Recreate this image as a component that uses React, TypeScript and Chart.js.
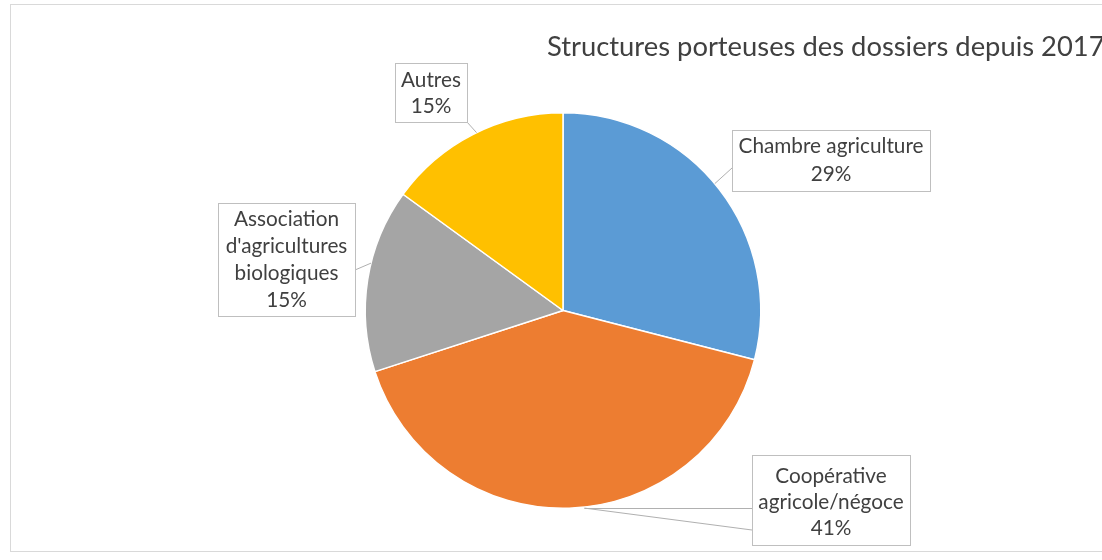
import React, { useEffect, useRef } from "react";
import { Chart, registerables } from "chart.js";

Chart.register(...registerables);

const categories = ["Chambre agriculture", "Coopérative agricole/négoce", "Association d'agricultures biologiques", "Autres"];
const values = [29, 41, 15, 15];
const labelLines = [
  ["Chambre agriculture", "29%"],
  ["Coopérative", "agricole/négoce", "41%"],
  ["Association", "d'agricultures", "biologiques", "15%"],
  ["Autres", "15%"],
];
const colors = ["#5B9BD5", "#ED7D31", "#A5A5A5", "#FFC000"];
const titleText = "Structures porteuses des dossiers depuis 2017";

const FONT = "Lato, 'Open Sans', sans-serif";

// callout box geometry (x, y, w, h, first baseline, line height)
const boxes = [
  { x: 732, y: 130, w: 198, h: 61, base: 153, lh: 28 },
  { x: 752, y: 455, w: 158, h: 90, base: 483, lh: 26 },
  { x: 218, y: 203, w: 137, h: 113, base: 226, lh: 27 },
  { x: 395, y: 63, w: 72, h: 59, base: 87, lh: 26 },
];

function fitFont(ctx: CanvasRenderingContext2D, text: string, target: number) {
  ctx.font = `100px ${FONT}`;
  const w = ctx.measureText(text).width;
  return (100 * target) / w;
}

const overlayPlugin = {
  id: "overlay",
  beforeDraw(chart: any) {
    const ctx: CanvasRenderingContext2D = chart.ctx;
    ctx.save();
    ctx.fillStyle = "#ffffff";
    ctx.fillRect(0, 0, chart.width, chart.height);
    ctx.restore();
  },
  afterDraw(chart: any) {
    const ctx: CanvasRenderingContext2D = chart.ctx;
    const meta = chart.getDatasetMeta(0);
    ctx.save();
    // outer border
    ctx.strokeStyle = "#d9d9d9";
    ctx.lineWidth = 1;
    ctx.strokeRect(10.5, 4.5, 1200, 547);

    // title
    const ts = fitFont(ctx, titleText, 558);
    ctx.font = `${ts}px ${FONT}`;
    ctx.fillStyle = "#404040";
    ctx.textAlign = "left";
    ctx.textBaseline = "alphabetic";
    ctx.fillText(titleText, 547, 56);

    // leader lines
    const arc = (i: number, frac: number) => {
      const el = meta.data[i];
      const a = el.startAngle + (el.endAngle - el.startAngle) * frac;
      const r = el.outerRadius;
      return [el.x + Math.cos(a) * r, el.y + Math.sin(a) * r];
    };
    ctx.strokeStyle = "#b0b0b0";
    ctx.lineWidth = 1;
    const line = (pts: number[][]) => {
      ctx.beginPath();
      ctx.moveTo(pts[0][0], pts[0][1]);
      for (let k = 1; k < pts.length; k++) ctx.lineTo(pts[k][0], pts[k][1]);
      ctx.stroke();
    };
    if (meta.data.length === 4) {
      const p0 = arc(0, 0.48);
      line([[732, 168], p0]);
      const p1 = arc(1, 0.47);
      line([[752, 508.5], [p1[0], 508.5]]);
      line([[752, 530], [p1[0], p1[1] + 1]]);
      const p2 = arc(2, 0.59);
      line([[355, 270], p2]);
      const p3 = arc(3, 0.52);
      line([[467, 122], p3]);
    }

    // callout boxes
    const fs = fitFont(ctx, "Chambre agriculture", 185);
    ctx.font = `${fs}px ${FONT}`;
    ctx.textAlign = "center";
    boxes.forEach((b, i) => {
      ctx.fillStyle = "#ffffff";
      ctx.fillRect(b.x, b.y, b.w, b.h);
      ctx.strokeStyle = "#bfbfbf";
      ctx.strokeRect(b.x + 0.5, b.y + 0.5, b.w, b.h);
      ctx.fillStyle = "#404040";
      labelLines[i].forEach((t, k) => {
        ctx.fillText(t, b.x + b.w / 2, b.base + k * b.lh);
      });
    });
    ctx.restore();
  },
};

export default function App() {
  const ref = useRef<HTMLCanvasElement | null>(null);
  useEffect(() => {
    if (!ref.current) return;
    const chart = new Chart(ref.current, {
      type: "pie",
      data: {
        labels: categories,
        datasets: [
          {
            data: values,
            backgroundColor: colors,
            borderColor: "#ffffff",
            borderWidth: 1.5,
          },
        ],
      },
      options: {
        responsive: false,
        animation: false,
        layout: { padding: { top: 112, bottom: 51, left: 263, right: 239 } },
        plugins: {
          legend: { display: false },
          tooltip: { enabled: false },
          title: { display: false },
        },
      },
      plugins: [overlayPlugin],
    });
    return () => chart.destroy();
  }, []);
  return (
    <div style={{ position: "absolute", left: 0, top: 0, width: 1102, height: 560, background: "#fff" }}>
      <canvas ref={ref} width={1102} height={560} style={{ display: "block" }} />
    </div>
  );
}
